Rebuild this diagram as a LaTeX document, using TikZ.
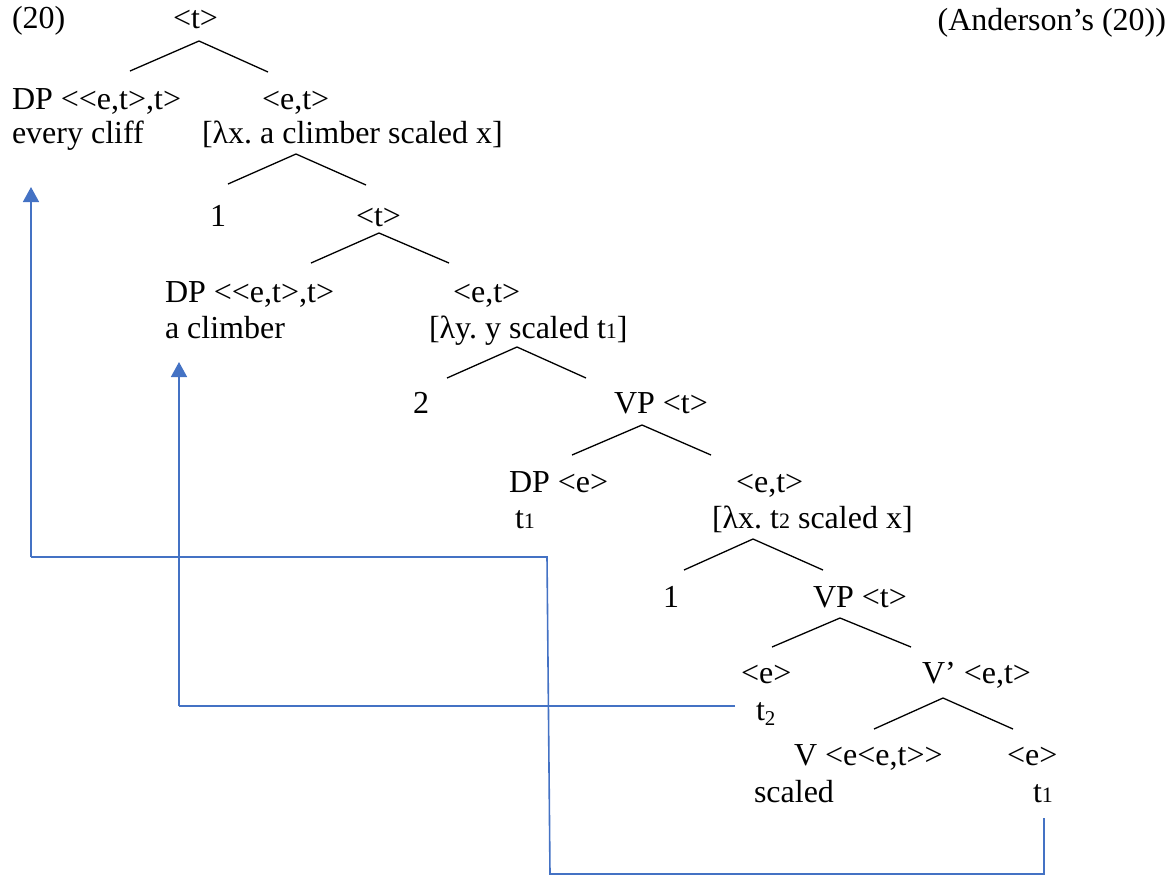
\documentclass[tikz,border=0pt]{standalone}
\usepackage{fontspec}
\setmainfont{Liberation Serif}[Ligatures=TeXOff]
\usetikzlibrary{arrows.meta}
\frenchspacing
\newcommand{\smdig}[1]{{\fontsize{11}{11}\selectfont #1}}
\newcommand{\subdig}[1]{\raisebox{-2.5pt}{\fontsize{10.5}{10.5}\selectfont #1}}
\definecolor{wordblue}{RGB}{68,114,196}
\tikzset{
  lbl/.style={anchor=base west,inner sep=0pt,outer sep=0pt,font=\fontsize{16}{19}\selectfont},
  branch/.style={draw=black,line width=0.65pt},
  link/.style={draw=wordblue,line width=0.8pt},
  linkarrow/.style={link,-{Triangle[width=8pt,length=7.5pt]}}
}
\begin{document}
\begin{tikzpicture}[x=0.5pt,y=-0.5pt]
\useasboundingbox (0,0) rectangle (1172,875);
% texts
\node[lbl] (n20) at (12,28) {(20)};
\node[lbl,anchor=base east] (ander) at (1166,30) {(Anderson’s (20))};
\node[lbl] (r0) at (173,28) {<t>};
\node[lbl] (dp1a) at (12,109) {DP <<e,t>,t>};
\node[lbl] (dp1b) at (12,143) {every cliff};
\node[lbl] (et1a) at (262,109) {<e,t>};
\node[lbl] (et1b) at (202,143) {[λx. a climber scaled x]};
\node[lbl] (one1) at (210,226) {1};
\node[lbl] (t1node) at (356,226) {<t>};
\node[lbl] (dp2a) at (165,302) {DP <<e,t>,t>};
\node[lbl] (dp2b) at (165,338) {a climber};
\node[lbl] (et2a) at (453,302) {<e,t>};
\node[lbl] (et2b) at (429,338) {[λy. y scaled t\smdig{1}]};
\node[lbl] (two) at (413,413) {2};
\node[lbl] (vp1) at (614,413) {VP <t>};
\node[lbl] (dp3a) at (509,492) {DP <e>};
\node[lbl] (dp3b) at (515,528) {t\smdig{1}};
\node[lbl] (et3a) at (736,492) {<e,t>};
\node[lbl] (et3b) at (712,528) {[λx. t\smdig{2} scaled x]};
\node[lbl] (one2) at (663,607) {1};
\node[lbl] (vp2) at (813,607) {VP <t>};
\node[lbl] (e1a) at (741,683) {<e>};
\node[lbl] (e1b) at (756,720) {t\subdig{2}};
\node[lbl] (vbar) at (922,683) {V’ <e,t>};
\node[lbl] (va) at (794,765) {V <e<e,t>>};
\node[lbl] (vb) at (754,802) {scaled};
\node[lbl] (e2a) at (1007,765) {<e>};
\node[lbl] (e2b) at (1033,802) {t\smdig{1}};
% branch points
\coordinate (a0) at (199,41);  \coordinate (l0) at (130,71);  \coordinate (r0e) at (268,72);
\coordinate (a1) at (296,154); \coordinate (l1) at (228,184); \coordinate (r1) at (366,185);
\coordinate (a2) at (379,233); \coordinate (l2) at (311,263); \coordinate (r2) at (449,263);
\coordinate (a3) at (517,347); \coordinate (l3) at (447,378); \coordinate (r3) at (586,378);
\coordinate (a4) at (642,425); \coordinate (l4) at (572,455); \coordinate (r4) at (711,455);
\coordinate (a5) at (753,539); \coordinate (l5) at (684,570); \coordinate (r5) at (823,570);
\coordinate (a6) at (840,618); \coordinate (l6) at (772,647); \coordinate (r6) at (911,647);
\coordinate (a7) at (943,698); \coordinate (l7) at (874,729); \coordinate (r7) at (1013,729);
\foreach \i/\r in {0/r0e,1/r1,2/r2,3/r3,4/r4,5/r5,6/r6,7/r7}{
  \draw[branch] (l\i) -- (a\i) -- (\r);
}
% movement links
\coordinate (p1) at (1044,818);
\coordinate (p2) at (1044,874);
\coordinate (p3) at (550,874);
\coordinate (p4) at (547,557);
\coordinate (p5) at (31,557);
\coordinate (p6) at (31,187);
\draw[link] (p1) -- (p2) -- (p3) -- (p4) -- (p5);
\draw[linkarrow] (p5) -- (p6);
\coordinate (q1) at (735,706);
\coordinate (q2) at (179,706);
\coordinate (q3) at (179,362);
\draw[link] (q1) -- (q2);
\draw[linkarrow] (q2) -- (q3);
\end{tikzpicture}
\end{document}
